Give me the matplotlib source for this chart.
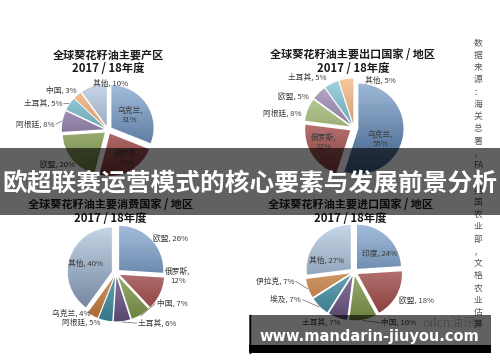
import matplotlib
matplotlib.use('Agg')
import matplotlib.pyplot as plt
import numpy as np
from matplotlib.colors import to_rgb
from matplotlib.patches import Rectangle

plt.rcParams['font.family'] = ['Noto Sans CJK SC', 'DejaVu Sans']

# ---------------- data ----------------
prod_labels = ['乌克兰', '俄罗斯', '欧盟', '阿根廷', '土耳其', '中国', '其他']
prod_values = [31, 23, 20, 8, 5, 3, 10]

export_labels = ['乌克兰', '俄罗斯', '阿根廷', '欧盟', '土耳其', '其他']
export_values = [55, 22, 8, 5, 5, 5]

cons_labels = ['欧盟', '俄罗斯', '中国', '土耳其', '阿根廷', '乌克兰', '其他']
cons_values = [26, 12, 7, 6, 5, 4, 40]

import_labels = ['印度', '欧盟', '中国', '土耳其', '埃及', '伊拉克', '其他']
import_values = [24, 18, 10, 7, 7, 7, 27]

titles = ['全球葵花籽油主要产区',
          '全球葵花籽油主要出口国家 / 地区',
          '全球葵花籽油主要消费国家 / 地区',
          '全球葵花籽油主要进口国家 / 地区']
season = '2017 / 18年度'
banner_text = '欧超联赛运营模式的核心要素与发展前景分析'
site_text = 'www.mandarin-jiuyou.com'
watermark = 'oilcn油讯'
source_chars = ['数', '据', '来', '源', '：', '海', '关', '总', '署', '，', 'FA', 'O',
                '美', '国', '农', '业', '部', '，', '文', '格', '农', '业', '估', '算']

palette = ['#4F81BD', '#C0504D', '#9BBB59', '#8064A2', '#4BACC6', '#F79646', '#95B3D7']

# ---------------- layout (pixel space) ----------------
W, H = 500, 362
fig = plt.figure(figsize=(W / 100, H / 100), dpi=100)
ax = fig.add_axes([0, 0, 1, 1])
ax.set_facecolor('white')

# (labels, values, center, radius, title y)
pies = [
    (prod_labels, prod_values, (108, 130), 42, 55),
    (export_labels, export_values, (354, 128), 45, 55),
    (cons_labels, cons_values, (116, 273), 44, 205),
    (import_labels, import_values, (354, 272), 44, 205),
]
title_x = [108, 353, 110, 350]

# label style per slice: (dist, ha, dx, dy, two_line, leader)
label_specs = [
    [(0.63, 'center', 0, 0, True, False), (0.72, 'center', 5, 1, True, False),
     (1.45, 'center', -4, -4, False, False), (1.2, 'right', -4, 3.5, False, True),
     (1.2, 'right', -4, 2, False, True), (1.2, 'right', 2, -2, False, False),
     (1.17, 'left', 0, 0, False, False)],
    [(0.6, 'center', 0, 7, True, False), (0.75, 'center', -2, -4, True, False),
     (1.2, 'right', -2, 5, False, False), (1.2, 'right', -7, 7, False, False),
     (1.25, 'right', -1.5, 0, False, False), (1.1, 'left', 19, 1, False, False)],
    [(1.14, 'left', 0, 0, False, False), (1.35, 'center', 8, -22, True, False),
     (1.1, 'left', 16, -11, False, True), (1.15, 'left', 16, 0, False, True),
     (1.15, 'right', -4, 0, False, False), (1.05, 'right', -3, 0, False, False),
     (0.72, 'center', 0, 0, False, False)],
    [(0.7, 'center', 4, 4.5, False, False), (1.2, 'left', -1, 2.6, False, False),
     (1.15, 'left', 18, 1, False, True), (1.15, 'right', 3.5, 3, False, False),
     (1.15, 'right', -17, -8, False, True), (1.3, 'right', -6, -10, False, True),
     (0.68, 'center', -4.5, 8, False, False)],
]

EXPLODE = 0.1   # fraction of radius
label_color = '#3a3a3a'


def gradient(c, n=80):
    c = np.array(to_rgb(c))
    top = c + (1 - c) * 0.5
    bot = c * 0.68
    t = np.linspace(0, 1, n)[:, None]
    col = top * (1 - t) + bot * t
    return col[:, None, :]


for k, (labels, values, (cx, cy), r, ty) in enumerate(pies):
    n = len(values)
    cols = palette[:n]
    wedges, _ = ax.pie(values, colors=cols, startangle=-90, counterclock=True,
                       center=(cx, cy), radius=r, explode=[EXPLODE * r] * n,
                       wedgeprops=dict(linewidth=0.6, edgecolor='white'))
    total = float(sum(values))
    cum = 0.0
    for i, (w, v) in enumerate(zip(wedges, values)):
        w.set_zorder(1)
        R = r * (1 + EXPLODE) + 2
        im = ax.imshow(gradient(cols[i]), extent=(cx - R, cx + R, cy + R, cy - R),
                       origin='upper', aspect='auto', interpolation='bilinear', zorder=1.5)
        im.set_clip_path(w)
        mid = -90 + 360 * (cum + v / 2) / total
        cum += v
        th = np.deg2rad(mid)
        d = np.array([np.cos(th), np.sin(th)])
        dist, ha, dx, dy, two, leader = label_specs[k][i]
        lx = cx + dist * r * d[0] + dx
        ly = cy + dist * r * d[1] + dy
        txt = f'{labels[i]},\n{v}%' if two else f'{labels[i]}, {v}%'
        ax.text(lx, ly, txt, ha=ha, va='center', fontsize=5.6, color=label_color,
                linespacing=1.15, multialignment='center', zorder=3)
        if leader:
            ex = cx + (r * (1 + EXPLODE) + 1) * d[0]
            ey = cy + (r * (1 + EXPLODE) + 1) * d[1]
            sx = lx + (1.5 if ha == 'right' else -1.5)
            ax.plot([sx, ex], [ly, ey], color='#808080', lw=0.6, zorder=2)
    ax.text(title_x[k], ty, titles[k], ha='center', va='center', fontsize=8,
            fontweight='bold', color='#1a1a1a', zorder=3)
    ax.text(title_x[k], ty + 13, season, ha='center', va='center', fontsize=8.2,
            fontweight='bold', color='#1a1a1a', zorder=3)

# source text (vertical)
for i, ch in enumerate(source_chars):
    ax.text(478, 43 + i * 12.26, ch, ha='center', va='center', fontsize=6.3,
            color='#555555', zorder=3)

# watermark
ax.text(422, 323, watermark, ha='left', va='center', fontsize=9, color='#c4c4c4', zorder=3)

# overlay banners
ax.add_patch(Rectangle((0, 148), 500, 67, facecolor='black', alpha=0.62,
                       edgecolor='none', zorder=5))
ax.text(250, 184, banner_text, ha='center', va='center', fontsize=17.8,
        fontweight='bold', color='white', zorder=6)

ax.add_patch(Rectangle((249, 315), 242, 30, facecolor='black', alpha=0.62,
                       edgecolor='none', zorder=5))
ax.add_patch(Rectangle((249, 345), 242, 8, facecolor='black', edgecolor='none', zorder=5))
ax.plot([249.5, 249.5], [315, 353], color='black', lw=1, zorder=5)
ax.text(369.5, 341, site_text, ha='center', va='baseline', fontsize=10.5,
        fontweight='bold', color='white', family='DejaVu Sans', zorder=6)

ax.set_xlim(0, W)
ax.set_ylim(H, 0)
ax.set_aspect('auto')
ax.axis('off')

fig.savefig('out.png', dpi=100, facecolor='white')
